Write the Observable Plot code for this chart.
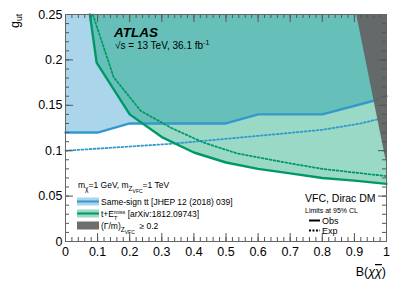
<!DOCTYPE html>
<html><head><meta charset="utf-8">
<script src="https://cdn.jsdelivr.net/npm/d3@7"></script>
<script src="https://cdn.jsdelivr.net/npm/@observablehq/plot@0.6"></script>
<style>html,body{margin:0;padding:0;background:#fff;}</style>
</head><body><div id="chart"></div>
<script>
// Same-sign tt (observed / expected) : B(chi chibar) vs g_ut
const ssObsB = [0, 0.1, 0.2, 0.5, 0.6, 0.8, 0.96, 1.0];
const ssObsG = [0.12, 0.12, 0.13, 0.13, 0.14, 0.14, 0.155, 0.16];
const ssExpB = [0, 0.33, 0.67, 0.8, 0.92, 1.0];
const ssExpG = [0.1, 0.1076, 0.1186, 0.123, 0.13, 0.137];
// t + MET (observed / expected)
const tmObsB = [0.076, 0.097, 0.2, 0.3, 0.4, 0.5, 0.6, 0.7, 0.8, 0.9, 1.0];
const tmObsG = [0.25, 0.197, 0.14, 0.115, 0.098, 0.087, 0.080, 0.075, 0.070, 0.067, 0.0635];
const tmExpB = [0.085, 0.15, 0.234, 0.33, 0.43, 0.535, 0.7, 0.8, 1.0];
const tmExpG = [0.25, 0.181, 0.144, 0.125, 0.109, 0.097, 0.086, 0.080, 0.072];
// (Gamma/m) >= 0.2 region boundary
const wideB = [0.907, 1.0];
const wideG = [0.25, 0.087];

const xTicks = [0, 0.1, 0.2, 0.3, 0.4, 0.5, 0.6, 0.7, 0.8, 0.9, 1];
const xTickLabels = ["0", "0.1", "0.2", "0.3", "0.4", "0.5", "0.6", "0.7", "0.8", "0.9", "1"];
const yTicks = [0, 0.05, 0.1, 0.15, 0.2, 0.25];
const yTickLabels = ["0", "0.05", "0.1", "0.15", "0.2", "0.25"];
const xMinor = d3.range(0, 1.0001, 0.02);
const yMinor = d3.range(0, 0.2501, 0.01);
const gTop = 0.25;

const zip = (B, G) => B.map((b, i) => ({b, g: G[i]}));
const ssObs = zip(ssObsB, ssObsG), ssExp = zip(ssExpB, ssExpG);
const tmObs = zip(tmObsB, tmObsG), tmExp = zip(tmExpB, tmExpG);
const wide = zip(wideB, wideG);

const FONT = "'Liberation Sans', Arial, Helvetica, sans-serif";
const BLUE_FILL = "#aad5ea", BLUE = "#3399cc";
const GREEN_FILL = "#00a070", GREEN_OP = 0.4, GREEN = "#009966";
const GRAY = "#636363";
const TICK = "#555";
const DOTS = "1.8,2.2";

const W = 407, H = 289, ML = 65, MR = 21, MT = 14, MB = 48;
const PW = W - ML - MR, PH = H - MT - MB;

// inside ticks drawn as short rules
const tickRules = [
  Plot.ruleX(xMinor, {x: d => d, insetTop: PH - 4, stroke: TICK}),
  Plot.ruleX(xTicks, {x: d => d, insetTop: PH - 8, stroke: TICK}),
  Plot.ruleX(xMinor, {x: d => d, insetBottom: PH - 4, stroke: TICK}),
  Plot.ruleX(xTicks, {x: d => d, insetBottom: PH - 8, stroke: TICK}),
  Plot.ruleY(yMinor, {y: d => d, insetRight: PW - 4, stroke: TICK}),
  Plot.ruleY(yTicks, {y: d => d, insetRight: PW - 8, stroke: TICK}),
  Plot.ruleY(yMinor, {y: d => d, insetLeft: PW - 4, stroke: TICK}),
  Plot.ruleY(yTicks, {y: d => d, insetLeft: PW - 8, stroke: TICK})
];

const plot = Plot.plot({
  width: W, height: H,
  marginLeft: ML, marginRight: MR, marginTop: MT, marginBottom: MB,
  x: {domain: [0, 1]},
  y: {domain: [0, 0.25]},
  style: {fontFamily: FONT, fontSize: "12.5px", background: "#fff", color: "#000"},
  marks: [
    Plot.areaY(ssObs, {x: "b", y1: "g", y2: gTop, fill: BLUE_FILL}),
    Plot.areaY(tmObs, {x: "b", y1: "g", y2: gTop, fill: GREEN_FILL, fillOpacity: GREEN_OP}),
    Plot.line(ssObs, {x: "b", y: "g", stroke: BLUE, strokeWidth: 2.4}),
    Plot.line(ssExp, {x: "b", y: "g", stroke: BLUE, strokeWidth: 1.8, strokeDasharray: DOTS}),
    Plot.line(tmObs, {x: "b", y: "g", stroke: GREEN, strokeWidth: 2.4}),
    Plot.line(tmExp, {x: "b", y: "g", stroke: GREEN, strokeWidth: 1.8, strokeDasharray: DOTS}),
    Plot.areaY(wide, {x: "b", y1: "g", y2: gTop, fill: GRAY, fillOpacity: 0.93}),
    ...tickRules,
    Plot.axisX({anchor: "bottom", ticks: xTicks, tickSize: 0, tickPadding: 6, label: null,
      tickFormat: d => xTickLabels[xTicks.indexOf(d)]}),
    Plot.axisY({anchor: "left", ticks: yTicks, tickSize: 0, tickPadding: 3, label: null,
      tickFormat: d => yTickLabels[yTicks.indexOf(d)]}),
    Plot.frame({stroke: "#666"})
  ]
});
document.getElementById("chart").appendChild(plot);

const svg = d3.select(plot);
const g = svg.append("g").attr("font-family", FONT).attr("fill", "#000").attr("text-anchor", "start");

function addText(x, y, size, parts, extra = {}) {
  const t = g.append("text").attr("x", x).attr("y", y).attr("font-size", size);
  for (const k in extra) t.attr(k, extra[k]);
  let prev = 0;
  for (const p of parts) {
    const off = p.off || 0;
    const s = t.append("tspan").text(p.t).attr("dy", off - prev);
    if (p.dx) s.attr("dx", p.dx);
    if (p.size) s.attr("font-size", p.size);
    if (p.style) s.attr("style", p.style);
    prev = off;
  }
  return t;
}

// ATLAS label
addText(114, 36.5, 13.5, [{t: "ATLAS"}], {"font-weight": "bold", "font-style": "italic"});
addText(115, 48.5, 10, [{t: "\u221As = 13 TeV, 36.1 fb"}, {t: "-1", off: -4, size: 7}]);

// axis titles
addText(19, 14, 12.5, [{t: "g"}, {t: "ut", off: 3, size: 8.5}],
  {"text-anchor": "end", transform: "rotate(-90,19,14)"});
addText(386, 276, 12.5, [{t: "B("}, {t: "\u03C7", style: "font-style:italic"},
  {t: "\u03C7", style: "font-style:italic;text-decoration:overline"}, {t: ")"}], {"text-anchor": "end"});

// left legend
addText(78, 188, 8.5, [{t: "m"}, {t: "\u03C7", off: 2.5, size: 6.5}, {t: "=1 GeV, m"},
  {t: "Z", off: 2.5, size: 6.5}, {t: "VFC", off: 4.5, size: 5}, {t: "=1 TeV"}]);
const sw = (y, fill, op, line) => {
  g.append("rect").attr("x", 77).attr("y", y).attr("width", 22).attr("height", 8)
    .attr("fill", fill).attr("fill-opacity", op);
  if (line) g.append("line").attr("x1", 77).attr("x2", 99).attr("y1", y + 4).attr("y2", y + 4)
    .attr("stroke", line).attr("stroke-width", 2);
};
sw(197.5, BLUE_FILL, 1, BLUE);
addText(101, 205, 8.5, [{t: "Same-sign tt [JHEP 12 (2018) 039]"}]);
sw(209.5, GREEN_FILL, GREEN_OP, GREEN);
addText(101, 217, 8.5, [{t: "t+E"}, {t: "T", off: 2.5, size: 5.5}, {t: "miss", off: -3.5, size: 5.5, dx: -3.4},
  {t: " [arXiv:1812.09743]", off: 0}]);
sw(221.5, GRAY, 0.93, null);
addText(101, 229, 8.5, [{t: "(\u0393/m)"}, {t: "Z", off: 3, size: 6.5}, {t: "VFC", off: 5, size: 5},
  {t: "  \u2265 0.2", off: 0}]);

// right legend
addText(305, 202, 10.5, [{t: "VFC, Dirac DM"}]);
addText(305, 213, 7, [{t: "Limits at 95% CL"}]);
g.append("line").attr("x1", 309).attr("x2", 320).attr("y1", 220.5).attr("y2", 220.5)
  .attr("stroke", "#000").attr("stroke-width", 2);
addText(322, 223.5, 9, [{t: "Obs"}]);
g.append("line").attr("x1", 309).attr("x2", 320).attr("y1", 230.5).attr("y2", 230.5)
  .attr("stroke", "#000").attr("stroke-width", 2).attr("stroke-dasharray", "2,1.5");
addText(322, 233.5, 9, [{t: "Exp"}]);
</script>
</body></html>
